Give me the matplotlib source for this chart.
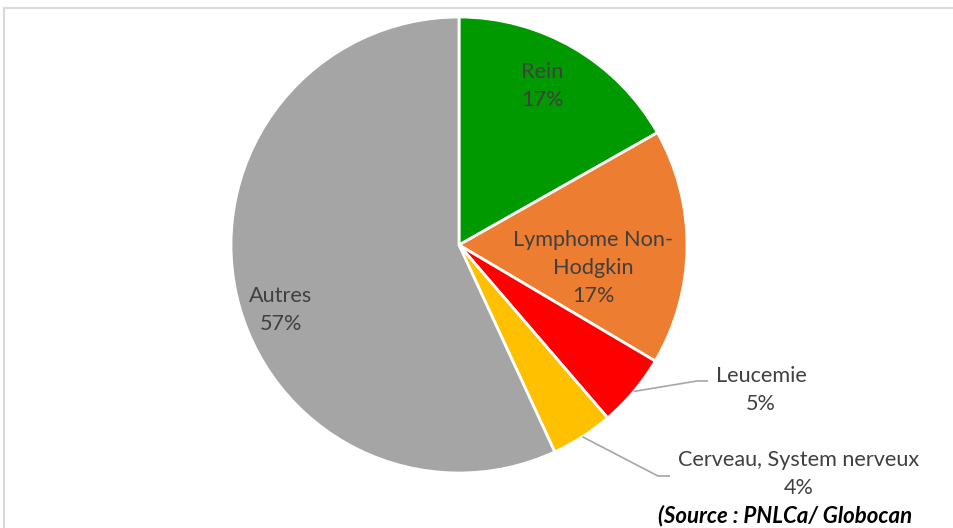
import numpy as np
import matplotlib
matplotlib.use("Agg")
import matplotlib.pyplot as plt

categories = ["Rein", "Lymphome Non-\nHodgkin", "Leucemie", "Cerveau, System nerveux", "Autres"]
values = [16.8, 16.7, 5.2, 4.4, 56.9]
pct_labels = ["17%", "17%", "5%", "4%", "57%"]
colors = ["#009900", "#ED7D31", "#FF0000", "#FFC000", "#A5A5A5"]

W, H = 954, 528
fig = plt.figure(figsize=(W / 100, H / 100), dpi=100)
ax = fig.add_axes([0, 0, 1, 1])
ax.set_xlim(0, W)
ax.set_ylim(0, H)
ax.set_aspect("equal")
ax.axis("off")

cx, cy, R = 459, 283, 228
wedges, _ = ax.pie(values, colors=colors, startangle=90, counterclock=False,
                   center=(cx, cy), radius=R,
                   wedgeprops=dict(edgecolor="white", linewidth=2))
ax.set_xlim(0, W)
ax.set_ylim(0, H)

plt.rcParams["font.family"] = ["Lato", "DejaVu Sans"]
tc = "#404040"
fs = 15.6
ls = 1.5

# inside labels
inside_pos = {0: (542, 442), 1: (593, 260), 4: (281, 218)}
for i, (x, y) in inside_pos.items():
    ax.text(x, y, f"{categories[i]}\n{pct_labels[i]}", ha="center", va="center",
            fontsize=fs, color=tc, linespacing=ls)

# outside labels with leader lines
outside = {2: ((761, 138), (697, 147), (708, 147)),
           3: ((799, 54), (658, 52), (670, 52))}
for i, (tpos, kink, end) in outside.items():
    w = wedges[i]
    mid = np.deg2rad((w.theta1 + w.theta2) / 2)
    sx, sy = cx + R * np.cos(mid), cy + R * np.sin(mid)
    ax.plot([sx, kink[0], end[0]], [sy, kink[1], end[1]], color="#A6A6A6", lw=1.2,
            solid_capstyle="butt")
    ax.text(tpos[0], tpos[1], f"{categories[i]}\n{pct_labels[i]}", ha="center",
            va="center", fontsize=fs, color=tc, linespacing=ls)

# frame
ax.plot([4, 4, W + 10], [-10, 520, 520], color="#D9D9D9", lw=1.5, clip_on=False)

ax.text(785, 12, "(Source : PNLCa/ Globocan", ha="center", va="center",
        fontsize=16, fontweight="bold", fontstyle="italic", color="black")

fig.savefig("out.png", dpi=100)
